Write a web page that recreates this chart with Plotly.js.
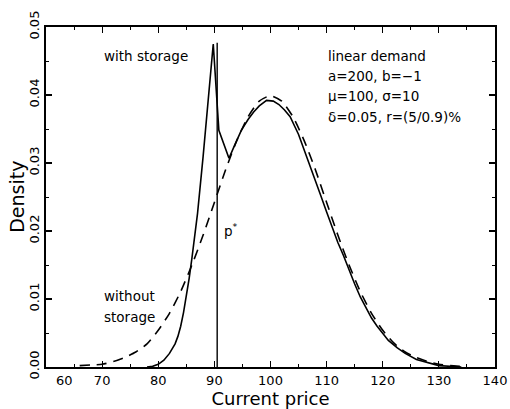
<!DOCTYPE html>
<html>
<head>
<meta charset="utf-8">
<script src="https://cdn.plot.ly/plotly-3.0.1.min.js"></script>
<style>html,body{margin:0;padding:0;background:#fff;}#chart{width:510px;height:409px;}</style>
</head>
<body>
<div id="chart"></div>
<script>
// With storage (solid)
const priceWith = [78, 79, 80, 81, 82, 83, 83.5, 84, 84.5, 85, 85.5, 86, 86.5, 87, 88, 89, 89.8, 90.8, 92.6, 93.6, 94.8, 96, 97, 98, 99.3, 100.5, 101.5, 102.5, 103.5, 105, 106, 107, 108, 109, 110, 111, 112, 113, 114, 115, 116, 117, 118, 119, 120, 121, 122.6, 124, 126, 128, 130, 132, 134];
const densWith  = [0, 0.0001, 0.0004, 0.0010, 0.0020, 0.0034, 0.0045, 0.0060, 0.0080, 0.0104, 0.0130, 0.0160, 0.0192, 0.0226, 0.0310, 0.0400, 0.0475, 0.0348, 0.0307, 0.0326, 0.0348, 0.0364, 0.0375, 0.0384, 0.0392, 0.0391, 0.0386, 0.0378, 0.0368, 0.0342, 0.0320, 0.0298, 0.0275, 0.0251, 0.0228, 0.0205, 0.0183, 0.0164, 0.0142, 0.0122, 0.0103, 0.0087, 0.0072, 0.0060, 0.0049, 0.0039, 0.0028, 0.0020, 0.0011, 0.0006, 0.0002, 0.0001, 0];

// Without storage (dashed)
const priceWithout = [66, 68, 70, 72, 74, 76, 78, 80, 82, 84, 86, 88, 90, 92, 94, 96, 98, 100, 102, 104, 106, 108, 110, 112, 114, 116, 118, 120, 122, 124, 126, 128, 130, 132, 134];
const densWithout  = [0.0002, 0.0003, 0.0004, 0.0008, 0.0014, 0.0022, 0.0034, 0.0054, 0.0079, 0.0111, 0.0150, 0.0194, 0.0242, 0.0290, 0.0333, 0.0368, 0.0391, 0.0399, 0.0391, 0.0368, 0.0333, 0.0290, 0.0242, 0.0194, 0.0150, 0.0111, 0.0079, 0.0054, 0.0035, 0.0022, 0.0014, 0.0008, 0.0004, 0.0002, 0.0001];

// Critical price p*
const pStar = 90.5;
const pStarTop = 0.0477;

const xTickVals = [70, 80, 90, 100, 110, 120, 130, 140];
const xTickText = ["70", "80", "90", "100", "110", "120", "130", "140"];
const xFirstTick = 60;
const yTickVals = [0, 0.01, 0.02, 0.03, 0.04, 0.05];
const yTickText = ["0.00", "0.01", "0.02", "0.03", "0.04", "0.05"];

const paramLines = ["linear demand", "a=200, b=\u22121", "\u03bc=100, \u03c3=10", "\u03b4=0.05, r=(5/0.9)%"];

const FONT = "DejaVu Sans, sans-serif";

const traces = [
  {x: priceWithout, y: densWithout, mode: "lines", line: {color: "#000", width: 1.6, dash: "10px,7px", shape: "spline", smoothing: 0.6}, hoverinfo: "skip"},
  {x: priceWith, y: densWith, mode: "lines", line: {color: "#000", width: 1.6}, hoverinfo: "skip"}
];

const annotations = [
  {xref: "x", yref: "paper", x: xFirstTick, y: 0, text: "60", showarrow: false, xanchor: "left", yanchor: "top", xshift: 8, yshift: -4, font: {family: FONT, size: 13, color: "#000"}},
  {xref: "x", yref: "y", x: 70.0, y: 0.0458, text: "with storage", showarrow: false, xanchor: "left", yanchor: "middle", font: {family: FONT, size: 13.5, color: "#000"}},
  {xref: "x", yref: "y", x: 70.0, y: 0.0104, text: "without", showarrow: false, xanchor: "left", yanchor: "middle", font: {family: FONT, size: 13.5, color: "#000"}},
  {xref: "x", yref: "y", x: 70.0, y: 0.0073, text: "storage", showarrow: false, xanchor: "left", yanchor: "middle", font: {family: FONT, size: 13.5, color: "#000"}},
  {xref: "x", yref: "y", x: 91.4, y: 0.0202, text: "p<sup>*</sup>", showarrow: false, xanchor: "left", yanchor: "middle", font: {family: FONT, size: 13.5, color: "#000"}},
  {xref: "paper", yref: "paper", x: -0.065, y: 0.5, text: "Density", textangle: -90, showarrow: false, xanchor: "center", yanchor: "middle", font: {family: FONT, size: 19, color: "#000"}}
];
paramLines.forEach((t, i) => {
  annotations.push({xref: "x", yref: "y", x: 109.8, y: 0.0458 - i * 0.0030, text: t, showarrow: false, xanchor: "left", yanchor: "middle", font: {family: FONT, size: 13.5, color: "#000"}});
});

const layout = {
  width: 510, height: 409,
  margin: {l: 46, r: 15, t: 27, b: 42},
  paper_bgcolor: "#fff", plot_bgcolor: "#fff",
  showlegend: false,
  font: {family: FONT, color: "#000"},
  xaxis: {
    range: [60, 140], tickvals: xTickVals, ticktext: xTickText,
    ticks: "inside", ticklen: 6, tickwidth: 1.2, tickcolor: "#000",
    minor: {dtick: 5, tick0: 60, ticks: "inside", ticklen: 3, tickwidth: 1, tickcolor: "#000"},
    showline: true, linecolor: "#000", linewidth: 2, mirror: "ticks",
    showgrid: false, zeroline: false,
    tickfont: {family: FONT, size: 13, color: "#000"},
    title: {text: "Current price", font: {family: FONT, size: 18, color: "#000"}, standoff: 5}
  },
  yaxis: {
    range: [0, 0.05], tickvals: yTickVals, ticktext: yTickText, tickangle: -90,
    ticks: "inside", ticklen: 6, tickwidth: 1.2, tickcolor: "#000",
    minor: {dtick: 0.005, tick0: 0, ticks: "inside", ticklen: 3, tickwidth: 1, tickcolor: "#000"},
    showline: true, linecolor: "#000", linewidth: 2, mirror: "ticks",
    showgrid: false, zeroline: false,
    tickfont: {family: FONT, size: 13, color: "#000"}
  },
  shapes: [
    {type: "line", xref: "x", yref: "y", x0: pStar, x1: pStar, y0: 0, y1: pStarTop, line: {color: "#000", width: 1.4}}
  ],
  annotations: annotations
};

Plotly.newPlot("chart", traces, layout, {displayModeBar: false, staticPlot: true});
</script>
</body>
</html>
